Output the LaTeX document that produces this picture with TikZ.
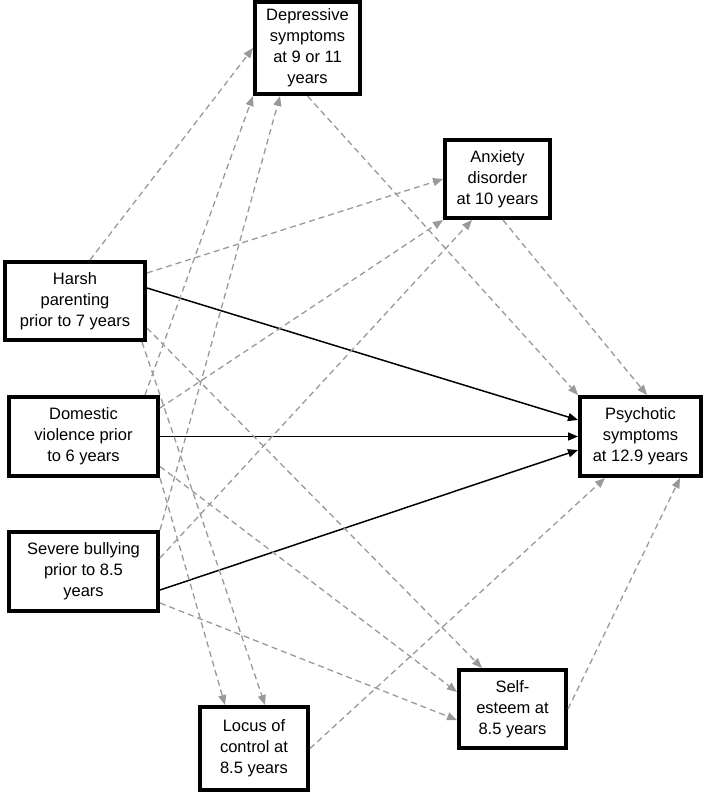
\documentclass[tikz,border=0pt]{standalone}
\usepackage{fontspec}
\setmainfont{Liberation Sans}
\usetikzlibrary{arrows.meta}
\begin{document}
\begin{tikzpicture}[x=1pt,y=-1pt,
  box/.style={draw,line width=4pt,inner sep=0pt,align=center,
    font=\fontsize{16.5}{21}\selectfont},
  med/.style={draw=black!40,line width=1.3pt,dash pattern=on 6pt off 4pt,
    -{Triangle[length=10pt,width=8pt]}},
  direct/.style={line width=1.5pt,-{Triangle[length=10pt,width=8pt]}}]
  \useasboundingbox (0,0) rectangle (705,792);
  %exposures
  \node[box,minimum width=140pt,minimum height=78pt] (harsh) at (75,301)
  {Harsh\\parenting\\prior to 7 years};
  \node[box,minimum width=149pt,minimum height=79pt] (domestic) at (83.5,436.5)
  {Domestic\\violence prior\\to 6 years};
  \node[box,minimum width=149pt,minimum height=79pt] (bullying) at (83.5,571.5)
  {Severe bullying\\prior to 8.5\\years};
  %mediators
  \node[box,minimum width=105pt,minimum height=92pt] (depress) at (307.5,48)
  {Depressive\\symptoms\\at 9 or 11\\years};
  \node[box,minimum width=105pt,minimum height=78pt] (anxiety) at (497.5,179)
  {Anxiety\\disorder\\at 10 years};
  \node[box,minimum width=107pt,minimum height=78pt] (esteem) at (512.5,709)
  {Self-\\esteem at\\8.5 years};
  \node[box,minimum width=108pt,minimum height=83pt] (locus) at (254,748.5)
  {Locus of\\control at\\8.5 years};
  %outcome
  \node[box,minimum width=121pt,minimum height=79pt] (psychotic) at (640.5,436.5)
  {Psychotic\\symptoms\\at 12.9 years};
  %direct paths
  \draw[direct] ([yshift=13pt]harsh.east) -- ([yshift=16.5pt]psychotic.west);
  \draw[direct] (domestic.east) -- (psychotic.west);
  \draw[direct] ([yshift=-18.5pt]bullying.east) -- ([yshift=-13.5pt]psychotic.west);
  %indirect paths
  \draw[med] ([xshift=15pt]harsh.north) -- (depress.west);
  \draw[med] ([yshift=28pt]harsh.east) -- (anxiety.west);
  \draw[med] ([yshift=-27pt]harsh.east) -- ([xshift=-30.5pt]esteem.north);
  \draw[med] ([xshift=-5pt]harsh.south east) -- ([xshift=11pt]locus.north);
  \draw[med] ([xshift=-15pt]domestic.north east) -- (depress.south west);
  \draw[med] ([yshift=28.5pt]domestic.east) -- (anxiety.south west);
  \draw[med] ([yshift=-30pt]domestic.east) -- ([yshift=17pt]esteem.west);
  \draw[med] (domestic.south east) -- ([xshift=-29pt]locus.north);
  \draw[med] (bullying.north east) -- ([xshift=-27.5pt]depress.south);
  \draw[med] ([yshift=13.5pt]bullying.east) -- ([xshift=-25.5pt]anxiety.south);
  \draw[med] ([yshift=-31.5pt]bullying.east) -- ([yshift=-11pt]esteem.west);
  %mediators to outcome
  \draw[med] (depress.south) -- (psychotic.north west);
  \draw[med] ([xshift=5.5pt]anxiety.south) -- ([xshift=6.5pt]psychotic.north);
  \draw[med] (esteem.east) -- ([xshift=39.5pt]psychotic.south);
  \draw[med] (locus.east) -- ([xshift=-35.5pt]psychotic.south);
\end{tikzpicture}
\end{document}
